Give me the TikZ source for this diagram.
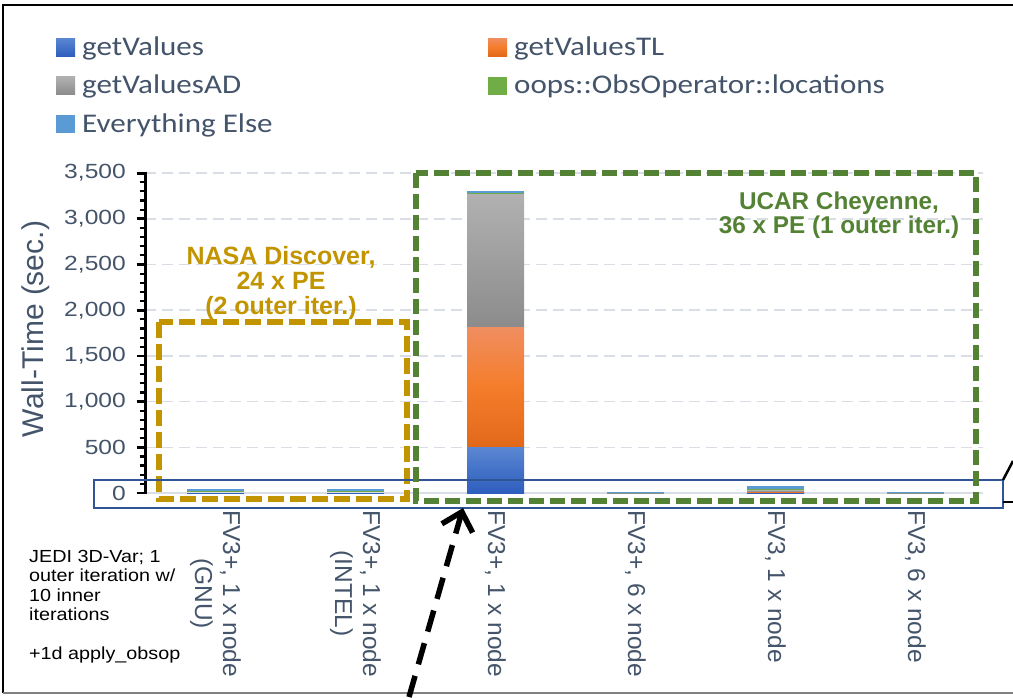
\documentclass[tikz,border=0pt]{standalone}
\usepackage{fontspec}
\setmainfont{Liberation Sans}
\newfontfamily\legendfont[FakeStretch=1.15]{Carlito}
\newfontfamily\widesans[FakeStretch=1.2]{Liberation Sans}
\newfontfamily\notesans[FakeStretch=1.13]{Liberation Sans}
\usetikzlibrary{arrows.meta}

\definecolor{slate}{HTML}{44546A}
\definecolor{gvtop}{HTML}{5B87D2}
\definecolor{gvbottom}{HTML}{2E5EBE}
\definecolor{tltop}{HTML}{F08E60}
\definecolor{tlmid}{HTML}{F47D2B}
\definecolor{tlbottom}{HTML}{E2691A}
\definecolor{adtop}{HTML}{B1B1B1}
\definecolor{adbottom}{HTML}{8C8C8C}
\definecolor{locgreen}{HTML}{70AD47}
\definecolor{elseblue}{HTML}{5B9BD5}
\definecolor{nasagold}{HTML}{C29500}
\definecolor{ucargreen}{HTML}{548235}
\definecolor{zoomblue}{HTML}{2F5597}
\definecolor{gridgray}{HTML}{D9DEE6}

\begin{document}
\begin{tikzpicture}[x=1pt,y=-1pt,
    gridline/.style={gridgray,line width=1.5pt,dash pattern=on 11pt off 6pt},
    gvseg/.style={top color=gvtop,bottom color=gvbottom},
    tlseg/.style={top color=tltop,bottom color=tlbottom,middle color=tlmid},
    adseg/.style={top color=adtop,bottom color=adbottom},
    locseg/.style={fill=locgreen},
    elseseg/.style={fill=elseblue},
    legkey/.style={minimum width=19pt,minimum height=18pt,inner sep=0},
    legtext/.style={anchor=base west,inner sep=0,text=slate,font=\legendfont\fontsize{27}{30}\selectfont},
    ticklabel/.style={anchor=east,inner sep=0,text=slate,font=\widesans\fontsize{20.5}{22}\selectfont},
    catlabel/.style={rotate=-90,anchor=west,align=center,inner sep=0,text=slate,font=\fontsize{24.5}{28}\selectfont},
    sitebox/.style={line width=5.5pt,dash pattern=on 16pt off 6pt},
    sitetitle/.style={align=center,inner sep=0,font=\bfseries\fontsize{25}{25}\selectfont}]
  \useasboundingbox (0,0) rectangle (1013,697);

  % frame
  \draw[line width=2.5pt] (3,693) -- (3,5) -- (1013,5);
  \draw[gray,line width=1.5pt] (3,693) -- (1013,693);

  % legend
  \node[legkey,gvseg] (k1) at (65.5,47) {};
  \node[legtext] (t1) at (82,55) {getValues};
  \node[legkey,adseg] (k2) at (65.5,85.5) {};
  \node[legtext] (t2) at (82,93.5) {getValuesAD};
  \node[legkey,elseseg] (k3) at (65.5,124) {};
  \node[legtext] (t3) at (82,132) {Everything Else};
  \node[legkey,tlseg] (k4) at (497.5,47) {};
  \node[legtext] (t4) at (514,55) {getValuesTL};
  \node[legkey,locseg] (k5) at (497.5,85.5) {};
  \node[legtext] (t5) at (514,93.5) {oops::ObsOperator::locations};

  \node[rotate=90,text=slate,font=\fontsize{30}{32}\selectfont] (ytitle) at (36,329) {Wall-Time (sec.)};

  \begin{scope}[shift={(0,493)},y=0.0914pt]
    % grid and value axis
    \foreach \v in {500,1000,...,3500}
      \draw[gridline] (145,\v) -- (983,\v);
    \draw[gridgray,line width=1.5pt] (145,0) -- (983,0);
    \foreach \v in {100,200,...,3400}
      \draw[line width=2.2pt] (139.5,\v) -- (145,\v);
    \foreach \v/\lab in {0/0,500/500,1000/{1,000},1500/{1,500},2000/{2,000},2500/{2,500},3000/{3,000},3500/{3,500}} {
      \draw[line width=2.8pt] (136.5,\v) -- (145,\v);
      \node[ticklabel] at (126,\v) {\lab};
    }
    \draw[line width=3pt] (145,-14) -- (145,3514);

    % stacked bars: centre / getValues / TL / AD / locations / else
    \foreach \c/\a/\b/\d/\e/\f in {215.5/3/3/3/10/20, 355.5/3/3/3/10/20,
        495.5/510/1310/1460/3/22, 635.5/0/0/1/0/10,
        775.5/8/12/10/15/30, 915.5/0/0/1/0/10} {
      \pgfmathsetmacro\ya{\a}
      \pgfmathsetmacro\yb{\a+\b}
      \pgfmathsetmacro\yc{\a+\b+\d}
      \pgfmathsetmacro\yd{\a+\b+\d+\e}
      \pgfmathsetmacro\ye{\a+\b+\d+\e+\f}
      \path[gvseg] (\c-28.5,0) rectangle (\c+28.5,\ya);
      \path[tlseg] (\c-28.5,\ya) rectangle (\c+28.5,\yb);
      \path[adseg] (\c-28.5,\yb) rectangle (\c+28.5,\yc);
      \path[locseg] (\c-28.5,\yc) rectangle (\c+28.5,\yd);
      \path[elseseg] (\c-28.5,\yd) rectangle (\c+28.5,\ye);
    }
  \end{scope}

  % category labels
  \node[catlabel] (c1) at (215.5,510) {FV3+, 1 x node\\(GNU)};
  \node[catlabel] (c2) at (355.5,510) {FV3+, 1 x node\\(INTEL)};
  \node[catlabel] (c3) at (495.5,510) {FV3+, 1 x node};
  \node[catlabel] (c4) at (635.5,510) {FV3+, 6 x node};
  \node[catlabel] (c5) at (775.5,510) {FV3, 1 x node};
  \node[catlabel] (c6) at (915.5,510) {FV3, 6 x node};

  \node[anchor=north west,align=left,inner sep=0,font=\notesans\fontsize{17.5}{19.5}\selectfont] (note) at (29,550)
    {JEDI 3D-Var; 1\\outer iteration w/\\10 inner\\iterations\\[19.5pt]+1d apply\_obsop};

  % machine boxes
  \draw[sitebox,nasagold] (159,322) rectangle (407,499);
  \node[sitetitle,text=nasagold] (nasa) at (281,283) {NASA Discover,\\24 x PE\\(2 outer iter.)};

  \node[draw=zoomblue,line width=2.5pt,minimum width=909pt,minimum height=28pt,inner sep=0,outer sep=0] (zoomband) at (548.5,494) {};

  \draw[sitebox,ucargreen,dash pattern=on 15pt off 6pt] (416,173) rectangle (976,501);
  \node[sitetitle,text=ucargreen,font=\bfseries\fontsize{24.3}{24}\selectfont] (ucar) at (839,215.5) {UCAR Cheyenne,\\36 x PE (1 outer iter.)};

  % callout to the zoomed view
  \coordinate (calloutA) at (1013,461);
  \coordinate (calloutB) at (1013,502);
  \draw[line width=2.5pt] (zoomband.north east) -- (calloutA);
  \draw[line width=2.5pt] (zoomband.east |- calloutB) -- (calloutB);

  \coordinate (arrowtail) at (409,697);
  \coordinate (tipx) at (463,0);
  \draw[line width=5.5pt,dash pattern=on 22pt off 12pt,-{Straight Barb[length=17pt,width=32pt,line width=5.5pt]}]
    (arrowtail) -- (zoomband.south -| tipx);
\end{tikzpicture}
\end{document}
